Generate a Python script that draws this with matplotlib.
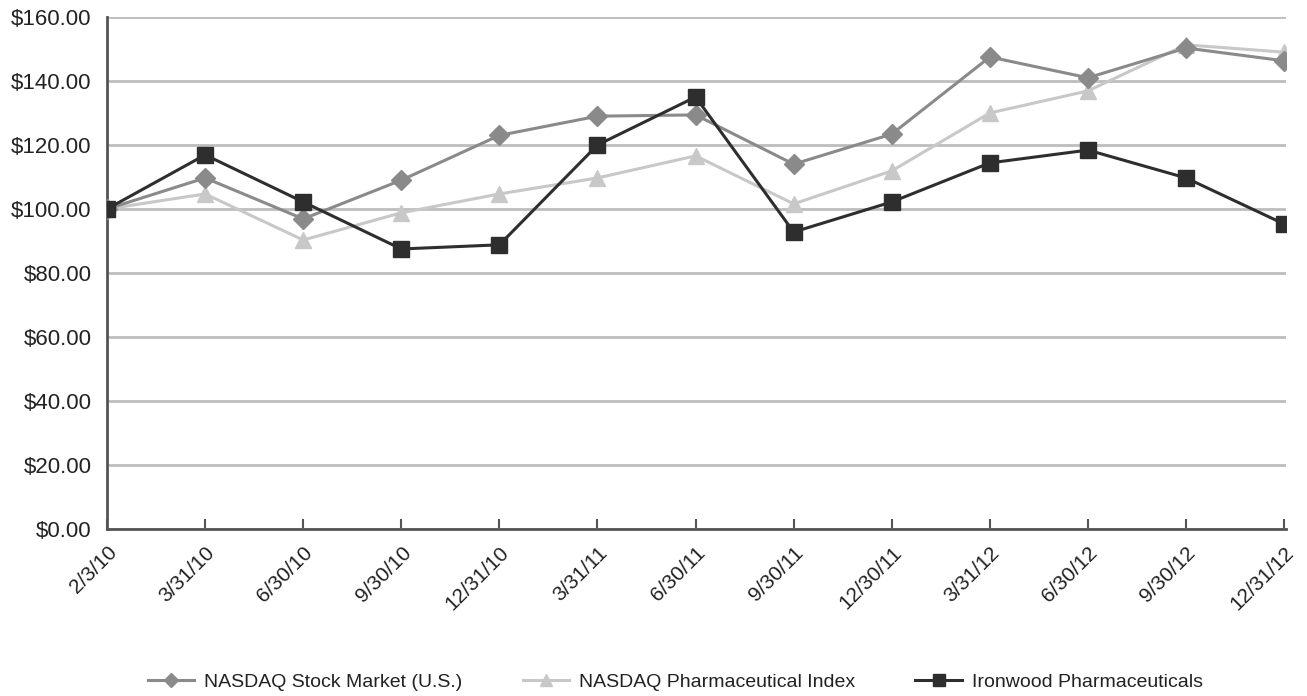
import matplotlib
matplotlib.use("Agg")
import matplotlib.pyplot as plt
from matplotlib.ticker import FuncFormatter

plt.rcParams['font.family'] = ['Liberation Sans', 'DejaVu Sans']

dates = ['2/3/10', '3/31/10', '6/30/10', '9/30/10', '12/31/10', '3/31/11', '6/30/11',
         '9/30/11', '12/30/11', '3/31/12', '6/30/12', '9/30/12', '12/31/12']
nasdaq = [100, 109.7, 96.9, 109.0, 123.0, 129.0, 129.4, 114.0, 123.4, 147.5, 141.0, 150.3, 146.3]
pharma = [100, 104.7, 90.3, 98.8, 104.7, 109.7, 116.6, 101.6, 111.9, 130.0, 136.9, 151.3, 149.0]
ironwood = [100, 116.9, 102.2, 87.5, 88.8, 120.0, 135.0, 92.8, 102.2, 114.4, 118.4, 109.7, 95.3]

fig = plt.figure(figsize=(13.07, 6.96), dpi=100)
ax = fig.add_axes([0.0819, 0.24, 0.9021, 0.7356])

x = list(range(len(dates)))
ax.plot(x, nasdaq, color='#8a8a8a', lw=2.2, marker='D', ms=10, label='NASDAQ Stock Market (U.S.)', zorder=3)
ax.plot(x, pharma, color='#c8c8c8', lw=2.2, marker='^', ms=11, label='NASDAQ Pharmaceutical Index', zorder=2)
ax.plot(x, ironwood, color='#2e2e2e', lw=2.2, marker='s', ms=12, label='Ironwood Pharmaceuticals', zorder=4)

ax.set_ylim(0, 160)
ax.set_xlim(0, len(dates) - 1 + 0.02)
ax.set_yticks(range(0, 161, 20))
ax.yaxis.set_major_formatter(FuncFormatter(lambda v, p: f'${v:.2f}'))
ax.grid(axis='y', color='#bdbdbd', lw=2)
ax.set_axisbelow(True)

ax.set_xticks(x)
ax.set_xticklabels(dates, rotation=45, ha='right', rotation_mode='anchor')
ax.tick_params(axis='x', direction='in', length=7, width=1.5, color='#555555', labelsize=15, pad=10,
               labelcolor='#222222')
ax.tick_params(axis='y', length=0, labelsize=16, pad=11, labelcolor='#222222')

for s in ['top', 'right']:
    ax.spines[s].set_visible(False)
for s in ['left', 'bottom']:
    ax.spines[s].set_color('#555555')
    ax.spines[s].set_linewidth(2)

fig.legend(loc='center', bbox_to_anchor=(0.5166, 0.02), ncol=3, frameon=False,
           fontsize=14, handlelength=2.4, columnspacing=3.1, handletextpad=0.5,
           markerscale=0.75, labelcolor='#222222')

fig.savefig('out.png', dpi=100)
